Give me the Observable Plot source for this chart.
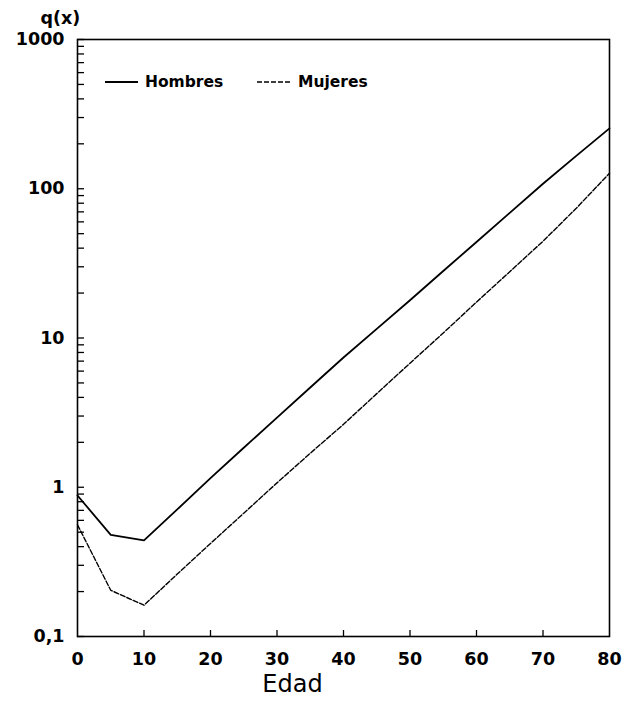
<!DOCTYPE html>
<html>
<head>
<meta charset="utf-8">
<script src="https://cdn.jsdelivr.net/npm/d3@7"></script>
<script src="https://cdn.jsdelivr.net/npm/@observablehq/plot@0.6"></script>
<style>
  html, body { margin: 0; padding: 0; background: #fff; }
</style>
</head>
<body>
<div id="chart"></div>
<script>
// Data
const ages = [0, 5, 10, 15, 20, 25, 30, 35, 40, 45, 50, 55, 60, 65, 70, 75, 80];
const hombres = [0.88, 0.48, 0.44, 0.71, 1.15, 1.84, 2.93, 4.66, 7.4, 11.5, 17.9, 28.1, 44, 68.9, 108, 166, 254];
const mujeres = [0.56, 0.204, 0.162, 0.262, 0.42, 0.67, 1.07, 1.69, 2.64, 4.24, 6.78, 10.8, 17.4, 27.8, 44.5, 74, 127];
const seriesNames = ["Hombres", "Mujeres"];
const xTicks = [0, 10, 20, 30, 40, 50, 60, 70, 80];
const xInnerTicks = [10, 20, 30, 40, 50, 60, 70];
const yTicks = [0.1, 1, 10, 100, 1000];
const yTickLabels = ["0,1", "1", "10", "100", "1000"];
const yMinorMultipliers = [1, 2, 3, 4, 5, 6, 7, 8, 9];
const xLabel = "Edad";
const yLabel = "q(x)";

const rowsH = ages.map((a, i) => ({edad: a, q: hombres[i], sexo: seriesNames[0]}));
const rowsM = ages.map((a, i) => ({edad: a, q: mujeres[i], sexo: seriesNames[1]}));
const yMinor = yTicks.slice(0, -1).flatMap(d => yMinorMultipliers.map(m => d * m)).concat([yTicks[yTicks.length - 1]]);

const W = 631, H = 719, ML = 77, MR = 22, MT = 39, MB = 83;
const plotW = W - ML - MR, plotH = H - MT - MB;

const legendEntries = [
  {name: seriesNames[0], dash: null, width: 1.8, x0: 28, x1: 61, tx: 68},
  {name: seriesNames[1], dash: "5,2", width: 1.4, x0: 180, x1: 215, tx: 221}
];

function legendMark(index, scales, values, dimensions) {
  const g = d3.create("svg:g");
  const y = dimensions.marginTop + 43;
  for (const e of legendEntries) {
    g.append("line")
      .attr("x1", dimensions.marginLeft + e.x0)
      .attr("x2", dimensions.marginLeft + e.x1)
      .attr("y1", y).attr("y2", y)
      .attr("stroke", "black")
      .attr("stroke-width", e.width)
      .attr("stroke-dasharray", e.dash);
    g.append("text")
      .attr("x", dimensions.marginLeft + e.tx)
      .attr("y", y)
      .attr("dy", "0.35em")
      .attr("text-anchor", "start")
      .attr("font-family", "DejaVu Sans")
      .attr("font-weight", "bold")
      .attr("font-size", 15.5)
      .attr("fill", "black")
      .text(e.name);
  }
  return g.node();
}

const chart = Plot.plot({
  width: W,
  height: H,
  marginLeft: ML,
  marginRight: MR,
  marginTop: MT,
  marginBottom: MB,
  x: {domain: [0, 80]},
  y: {type: "log", domain: [0.1, 1000]},
  style: {fontFamily: "DejaVu Sans", fontWeight: "bold", fontSize: "17.5px", color: "black", background: "white"},
  marks: [
    Plot.axisY({ticks: yTicks, tickFormat: d => yTickLabels[yTicks.indexOf(d)], tickSize: 0, tickPadding: 13, label: null, fontSize: 17.5}),
    Plot.axisX({ticks: xTicks, tickFormat: d => String(d), tickSize: 0, tickPadding: 16, label: null, fontSize: 17.5}),
    Plot.tickY(yMinor, {y: d => d, insetRight: plotW - 7, stroke: "black", strokeWidth: 1.3}),
    Plot.tickX(xInnerTicks, {x: d => d, insetTop: plotH - 6, stroke: "black", strokeWidth: 1.3}),
    Plot.line(rowsH, {x: "edad", y: "q", stroke: "black", strokeWidth: 1.8}),
    Plot.line(rowsM, {x: "edad", y: "q", stroke: "black", strokeWidth: 1.4, strokeDasharray: "5,2"}),
    Plot.frame({stroke: "black", strokeWidth: 1.6}),
    Plot.text([xLabel], {text: d => d, frameAnchor: "bottom", lineAnchor: "middle", dx: -51, dy: 48, fontSize: 24, fontWeight: "normal", fontFamily: "DejaVu Sans", textAnchor: "middle"}),
    Plot.text([yLabel], {text: d => d, frameAnchor: "top-left", lineAnchor: "middle", dx: -37, dy: -21, fontSize: 17.5, fontWeight: "bold", textAnchor: "start"}),
    legendMark
  ]
});

document.getElementById("chart").appendChild(chart);
</script>
</body>
</html>
